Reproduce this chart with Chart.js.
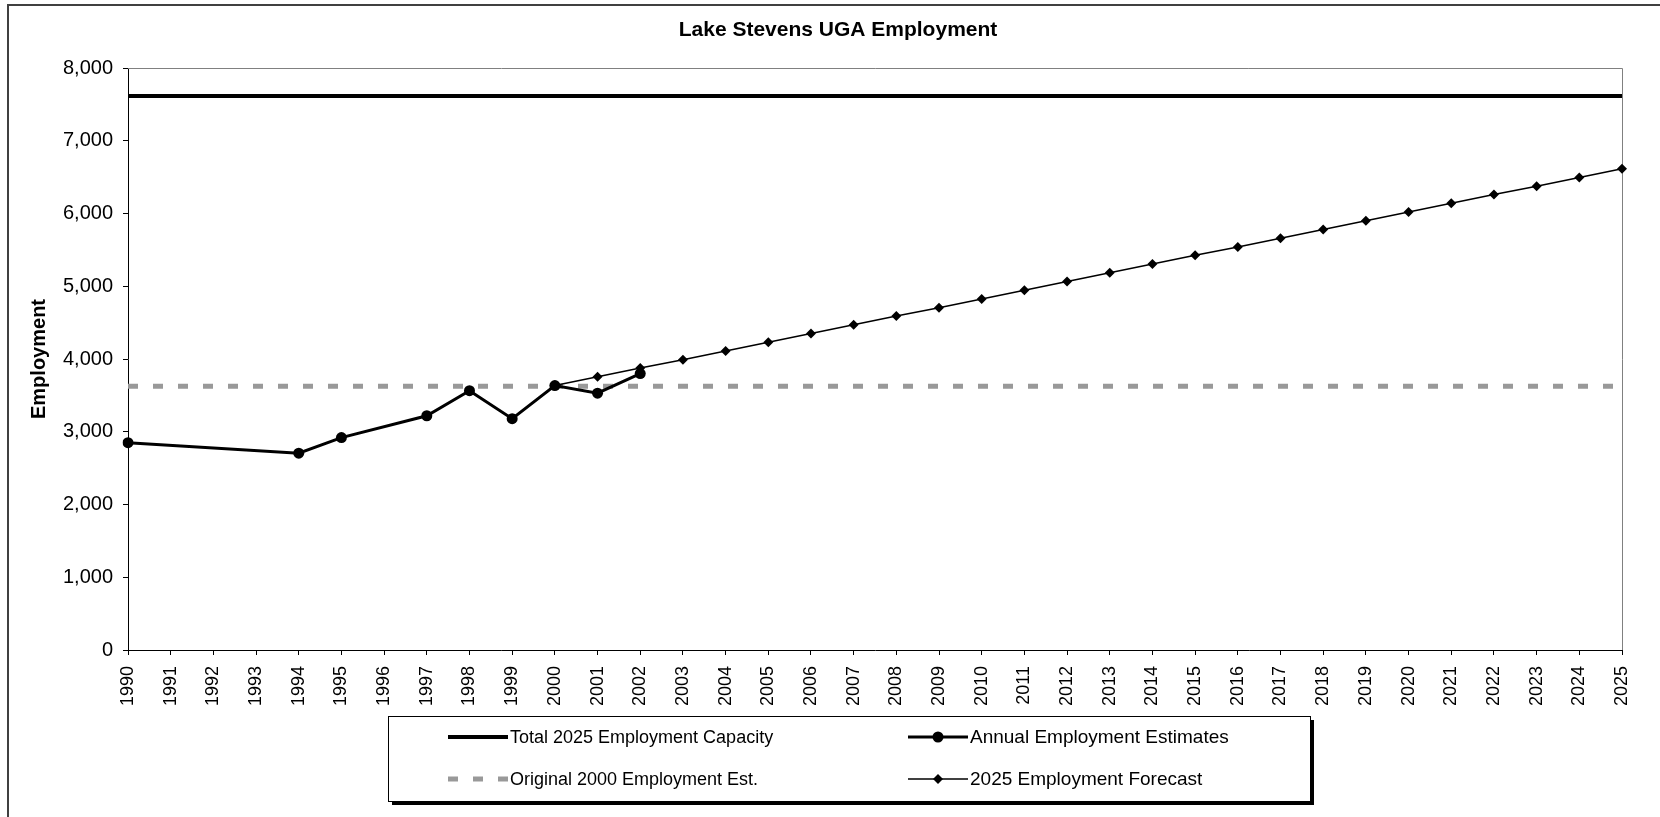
<!DOCTYPE html>
<html>
<head>
<meta charset="utf-8">
<title>Lake Stevens UGA Employment</title>
<script src="https://cdn.jsdelivr.net/npm/chart.js@4.4.0/dist/chart.umd.min.js"></script>
<style>
  html, body { margin: 0; padding: 0; background: #fff; }
  #wrap { width: 1660px; height: 817px; }
</style>
</head>
<body>
<div id="wrap"><canvas id="employmentChart" width="1660" height="817"></canvas></div>
<script>
const years = ['1990', '1991', '1992', '1993', '1994', '1995', '1996', '1997', '1998', '1999',
  '2000', '2001', '2002', '2003', '2004', '2005', '2006', '2007', '2008', '2009',
  '2010', '2011', '2012', '2013', '2014', '2015', '2016', '2017', '2018', '2019',
  '2020', '2021', '2022', '2023', '2024', '2025'];

const estimateYears = ['1990', '1994', '1995', '1997', '1998', '1999', '2000', '2001', '2002'];
const estimateValues = [2850, 2705, 2920, 3220, 3565, 3180, 3635, 3530, 3800];

const forecastYears = ['2000', '2001', '2002', '2003', '2004', '2005', '2006', '2007', '2008',
  '2009', '2010', '2011', '2012', '2013', '2014', '2015', '2016', '2017', '2018', '2019',
  '2020', '2021', '2022', '2023', '2024', '2025'];
const forecastValues = [3635, 3755, 3875, 3990, 4110, 4230, 4350, 4470, 4590, 4705,
  4825, 4945, 5065, 5185, 5305, 5425, 5540, 5660, 5780, 5900,
  6020, 6140, 6260, 6375, 6495, 6615];

const capacityYears = ['1990', '2025'];
const capacityValues = [7615, 7615];
const original2000Values = [3625, 3625];

const yTicks = [0, 1000, 2000, 3000, 4000, 5000, 6000, 7000, 8000];

const FONT = '"Liberation Sans", Arial, sans-serif';

const pairs = (xs, ys) => xs.map((x, i) => ({ x, y: ys[i] }));

// title, axis title, frames and the legend box are drawn by hand
const excelFrame = {
  id: 'excelFrame',
  beforeDatasetsDraw(chart) {
    const { ctx, chartArea: a } = chart;
    ctx.save();
    ctx.strokeStyle = '#808080';
    ctx.lineWidth = 1;
    ctx.beginPath();
    ctx.moveTo(a.left, a.top + 0.5);
    ctx.lineTo(a.right + 0.5, a.top + 0.5);
    ctx.lineTo(a.right + 0.5, a.bottom);
    ctx.stroke();
    ctx.restore();
  },
  afterDraw(chart) {
    const { ctx, chartArea: a } = chart;
    const ds = chart.data.datasets;
    ctx.save();

    // outer chart border
    ctx.strokeStyle = '#404040';
    ctx.lineWidth = 2;
    ctx.strokeRect(8, 5, 1700, 900);

    ctx.fillStyle = '#000';
    ctx.font = 'bold 21px ' + FONT;
    ctx.textAlign = 'center';
    ctx.textBaseline = 'middle';
    ctx.fillText('Lake Stevens UGA Employment', 838, 30);

    ctx.font = 'bold 20px ' + FONT;
    ctx.save();
    ctx.translate(39, (a.top + a.bottom) / 2);
    ctx.rotate(-Math.PI / 2);
    ctx.fillText('Employment', 0, 0);
    ctx.restore();

    // legend box with shadow
    const bx = 388, by = 716, bw = 922, bh = 85;
    ctx.fillStyle = '#000';
    ctx.fillRect(bx + 4, by + 4, bw, bh);
    ctx.fillStyle = '#fff';
    ctx.fillRect(bx, by, bw, bh);
    ctx.strokeStyle = '#000';
    ctx.lineWidth = 1;
    ctx.strokeRect(bx + 0.5, by + 0.5, bw, bh);

    const items = [
      { d: ds[3], x: 448, y: 737, size: 18 },
      { d: ds[0], x: 908, y: 737, size: 19 },
      { d: ds[2], x: 448, y: 779, size: 18 },
      { d: ds[1], x: 908, y: 779, size: 19 }
    ];
    ctx.textAlign = 'left';
    items.forEach(it => {
      const d = it.d;
      ctx.save();
      ctx.strokeStyle = d.borderColor;
      ctx.lineWidth = d.borderWidth;
      ctx.setLineDash(d.borderDash || []);
      ctx.beginPath();
      ctx.moveTo(it.x, it.y);
      ctx.lineTo(it.x + 60, it.y);
      ctx.stroke();
      ctx.restore();
      if (d.pointRadius > 0) {
        ctx.save();
        ctx.fillStyle = '#000';
        ctx.translate(it.x + 30, it.y);
        ctx.beginPath();
        if (d.pointStyle === 'rectRot') {
          const r = d.pointRadius;
          ctx.moveTo(0, -r); ctx.lineTo(r, 0); ctx.lineTo(0, r); ctx.lineTo(-r, 0);
          ctx.closePath();
        } else {
          ctx.arc(0, 0, d.pointRadius, 0, Math.PI * 2);
        }
        ctx.fill();
        ctx.restore();
      }
      ctx.fillStyle = '#000';
      ctx.font = it.size + 'px ' + FONT;
      ctx.fillText(d.label, it.x + 62, it.y + 1);
    });
    ctx.restore();
  }
};

new Chart(document.getElementById('employmentChart').getContext('2d'), {
  type: 'line',
  data: {
    labels: years,
    datasets: [
      {
        label: 'Annual Employment Estimates',
        data: pairs(estimateYears, estimateValues),
        borderColor: '#000',
        backgroundColor: '#000',
        borderWidth: 3,
        pointStyle: 'circle',
        pointRadius: 5.5,
        pointBorderWidth: 0,
        tension: 0,
        order: 0
      },
      {
        label: '2025 Employment Forecast',
        data: pairs(forecastYears, forecastValues),
        borderColor: '#000',
        backgroundColor: '#000',
        borderWidth: 1.5,
        pointStyle: 'rectRot',
        pointRadius: 5,
        pointBorderWidth: 0,
        tension: 0,
        order: 1
      },
      {
        label: 'Original 2000 Employment Est.',
        data: pairs(capacityYears, original2000Values),
        borderColor: '#999999',
        borderWidth: 5,
        borderDash: [10, 15],
        borderCapStyle: 'butt',
        pointRadius: 0,
        order: 2
      },
      {
        label: 'Total 2025 Employment Capacity',
        data: pairs(capacityYears, capacityValues),
        borderColor: '#000',
        borderWidth: 4,
        pointRadius: 0,
        order: 3
      }
    ]
  },
  options: {
    responsive: false,
    animation: false,
    layout: { padding: { left: 0, right: 38, top: 68, bottom: 0 } },
    plugins: {
      legend: { display: false },
      title: { display: false },
      tooltip: { enabled: false }
    },
    scales: {
      x: {
        type: 'category',
        offset: false,
        afterFit: scale => { scale.height = 167; },
        grid: { display: true, drawOnChartArea: false, drawTicks: true, tickLength: 5, color: '#000' },
        border: { display: true, color: '#000', width: 1 },
        ticks: {
          autoSkip: false,
          minRotation: 90,
          maxRotation: 90,
          padding: 11,
          color: '#000',
          font: { family: FONT, size: 18 }
        }
      },
      y: {
        min: 0,
        max: 8000,
        afterFit: scale => { scale.width = 128; },
        afterBuildTicks: scale => { scale.ticks = yTicks.map(v => ({ value: v })); },
        grid: { display: true, drawOnChartArea: false, drawTicks: true, tickLength: 5, color: '#000' },
        border: { display: true, color: '#000', width: 1 },
        ticks: {
          padding: 10,
          color: '#000',
          font: { family: FONT, size: 20 },
          callback: v => v.toLocaleString('en-US')
        }
      }
    }
  },
  plugins: [excelFrame]
});
</script>
</body>
</html>
